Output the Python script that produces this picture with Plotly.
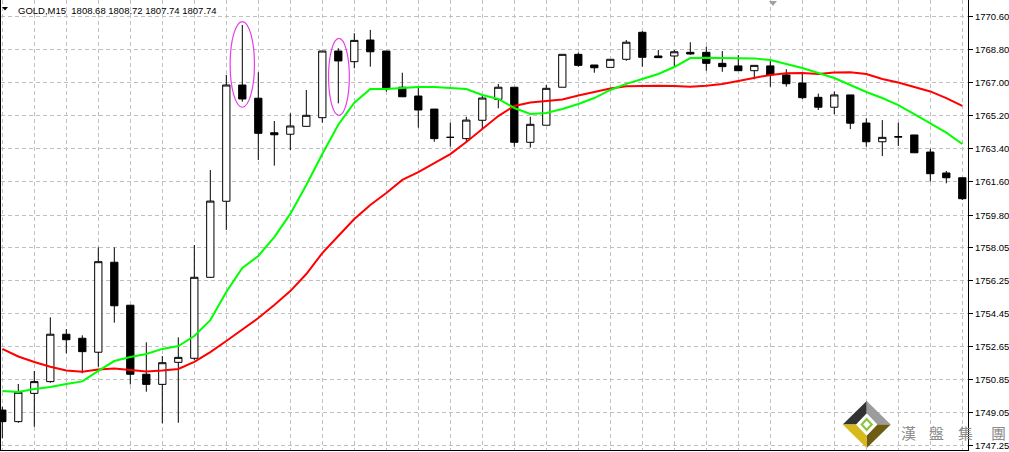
import plotly.graph_objects as go

# ---------------- data ----------------
opens = [1749.18, 1748.55, 1750.09, 1750.73, 1753.31, 1753.09, 1752.33, 1757.23, 1754.89, 1751.13,
         1750.58, 1751.78, 1752.00, 1756.41, 1760.55, 1766.88, 1766.16, 1764.28, 1764.20, 1764.63,
         1765.10, 1768.73, 1768.15, 1769.33, 1768.73, 1766.76, 1766.28, 1765.57, 1764.03, 1763.96,
         1764.96, 1766.10, 1766.76, 1763.76, 1764.69, 1766.76, 1768.55, 1767.97, 1767.84, 1768.28,
         1769.75, 1768.46, 1768.46, 1768.66, 1768.66, 1768.06, 1767.92, 1767.66, 1767.92, 1767.43,
         1766.99, 1766.21, 1765.67, 1766.34, 1764.81, 1763.79, 1764.07, 1764.16, 1763.23, 1762.09,
         1761.83]
highs = [1749.36, 1750.60, 1751.31, 1754.23, 1753.59, 1753.25, 1758.04, 1758.04, 1754.89, 1752.87,
         1752.12, 1753.14, 1758.17, 1762.25, 1767.43, 1770.15, 1767.57, 1764.92, 1765.34, 1766.61,
         1768.73, 1768.88, 1769.70, 1769.88, 1768.73, 1767.55, 1766.79, 1765.57, 1764.83, 1765.15,
         1766.28, 1766.94, 1766.76, 1765.15, 1766.88, 1768.55, 1768.64, 1767.97, 1768.28, 1769.33,
         1769.82, 1768.79, 1768.79, 1769.21, 1768.97, 1768.73, 1768.51, 1767.95, 1768.19, 1767.74,
         1767.52, 1766.41, 1766.52, 1766.34, 1765.07, 1764.97, 1764.83, 1764.16, 1763.41, 1762.20,
         1761.83]
lows = [1747.64, 1748.49, 1748.27, 1750.67, 1752.27, 1751.18, 1751.54, 1753.94, 1750.58, 1750.18,
        1748.46, 1748.49, 1751.91, 1756.37, 1758.99, 1765.97, 1762.80, 1762.49, 1763.34, 1764.63,
        1764.83, 1765.88, 1767.79, 1767.88, 1766.52, 1766.24, 1764.56, 1763.79, 1763.52, 1763.74,
        1764.48, 1765.61, 1763.52, 1763.47, 1764.69, 1766.76, 1767.88, 1767.55, 1767.84, 1768.20,
        1767.88, 1768.37, 1767.92, 1768.53, 1767.66, 1767.60, 1767.66, 1767.19, 1766.79, 1766.79,
        1766.12, 1765.52, 1765.29, 1764.48, 1763.52, 1763.01, 1763.56, 1763.19, 1761.62, 1761.53,
        1760.62]
closes = [1748.55, 1750.15, 1750.73, 1753.31, 1753.01, 1752.36, 1757.26, 1754.86, 1751.13, 1750.58,
          1751.76, 1752.05, 1756.41, 1760.56, 1766.88, 1766.12, 1764.25, 1764.17, 1764.65, 1765.23,
          1768.73, 1768.19, 1769.31, 1768.69, 1766.73, 1766.24, 1765.52, 1763.96, 1764.03, 1764.97,
          1766.17, 1766.76, 1763.76, 1764.74, 1766.70, 1768.55, 1767.95, 1767.82, 1768.28, 1769.21,
          1768.39, 1768.37, 1768.69, 1768.57, 1768.06, 1767.88, 1767.66, 1767.95, 1767.43, 1766.95,
          1766.19, 1765.67, 1766.34, 1764.80, 1763.79, 1764.03, 1764.05, 1763.19, 1762.05, 1761.83,
          1760.69]
ma_fast = [1750.22, 1750.16, 1750.33, 1750.44, 1750.60, 1750.74, 1751.31, 1751.85, 1752.07, 1752.23,
           1752.51, 1752.67, 1753.21, 1754.08, 1755.61, 1756.92, 1757.57, 1758.60, 1759.86, 1761.44,
           1763.12, 1764.72, 1765.92, 1766.66, 1766.66, 1766.72, 1766.77, 1766.77, 1766.72, 1766.66,
           1766.34, 1766.12, 1765.63, 1765.30, 1765.36, 1765.57, 1765.85, 1766.17, 1766.61, 1766.94,
           1767.21, 1767.48, 1767.86, 1768.35, 1768.37, 1768.35, 1768.35, 1768.33, 1768.24, 1768.02,
           1767.81, 1767.53, 1767.26, 1766.88, 1766.50, 1766.17, 1765.79, 1765.30, 1764.81, 1764.29,
           1763.67]
ma_slow = [1752.51, 1752.10, 1751.80, 1751.54, 1751.34, 1751.27, 1751.39, 1751.44, 1751.36, 1751.28,
           1751.34, 1751.42, 1751.80, 1752.34, 1752.94, 1753.54, 1754.19, 1754.90, 1755.66, 1756.59,
           1757.73, 1758.66, 1759.58, 1760.35, 1761.00, 1761.71, 1762.14, 1762.63, 1763.12, 1763.78,
           1764.49, 1765.19, 1765.74, 1765.93, 1766.01, 1766.09, 1766.31, 1766.50, 1766.69, 1766.81,
           1766.84, 1766.84, 1766.83, 1766.79, 1766.84, 1766.94, 1767.10, 1767.26, 1767.43, 1767.52,
           1767.53, 1767.48, 1767.56, 1767.57, 1767.48, 1767.21, 1767.02, 1766.77, 1766.53, 1766.17,
           1765.74]
tick_vals = [1770.60, 1768.80, 1767.00, 1765.20, 1763.40, 1761.60, 1759.80,
             1758.05, 1756.25, 1754.45, 1752.65, 1750.85, 1749.05, 1747.25]
tick_text = ["%.2f" % v for v in tick_vals]
symbol = "GOLD,M15"
quote = ["1808.68", "1808.72", "1807.74", "1807.74"]
marked = [15, 21]          # candles circled in the picture
watermark_chars = ["漢", "盤", "集", "團"]

# ---------------- figure ----------------
W, H = 1009, 452
ML, MR, MT, MB = 1, 41, 0, 2
PW, PH = W - ML - MR, H - MT - MB


def PX(xp):
    return (xp - ML) / PW


def PY(yp):
    return (H - MB - yp) / PH


idx = list(range(len(opens)))

fig = go.Figure()
fig.add_trace(go.Scatter(x=idx, y=ma_slow, mode="lines",
                         line=dict(color="#FF0000", width=2), hoverinfo="skip"))
fig.add_trace(go.Scatter(x=idx, y=ma_fast, mode="lines",
                         line=dict(color="#00FF00", width=2), hoverinfo="skip"))
fig.add_trace(go.Candlestick(
    x=idx, open=opens, high=highs, low=lows, close=closes,
    increasing=dict(line=dict(color="black", width=1), fillcolor="white"),
    decreasing=dict(line=dict(color="black", width=1), fillcolor="black"),
    whiskerwidth=0))

shapes = []
# ellipses around the marked candles
pads = [(0.76, 0.0, 0.30, 0.18), (0.65, 0.04, 0.65, 0.54)]
for k, (hw, dx, lo_pad, hi_pad) in zip(marked, pads):
    shapes.append(dict(type="circle", xref="x", yref="y",
                       x0=k + dx - hw, x1=k + dx + hw,
                       y0=lows[k] - lo_pad, y1=highs[k] + hi_pad,
                       line=dict(color="#E83CE8", width=1.2), layer="above"))


def poly(pts, color):
    path = "M " + " L ".join("%f,%f" % (PX(a), PY(b)) for a, b in pts) + " Z"
    return dict(type="path", xref="paper", yref="paper", path=path,
                fillcolor=color, line=dict(width=0), layer="above")


# title triangle
shapes.append(poly([(2, 7), (8, 7), (5, 10.5)], "black"))
# chart-shift marker at top
shapes.append(poly([(769, 1), (777, 1), (773, 6)], "#A0A0A0"))

# watermark logo
cx, cy, hw, hh = 866.7, 424.5, 24, 23.5
iw, ih = 10.5, 11
T, R, B, L = (cx, cy - hh), (cx + hw, cy), (cx, cy + hh), (cx - hw, cy)
t, r, b, l = (cx, cy - ih), (cx + iw, cy), (cx, cy + ih), (cx - iw, cy)
shapes.append(poly([L, T, t, l], "#333333"))
shapes.append(poly([T, R, r, t], "#9C9C9C"))
shapes.append(poly([R, B, b, r], "#6E5C12"))
shapes.append(poly([B, L, l, b], "#D6BA1C"))
shapes.append(poly([t, r, b, l], "white"))
shapes.append(poly([(cx, cy - 7), (cx + 6.5, cy), (cx, cy + 7), (cx - 6.5, cy)], "#8CC63F"))
shapes.append(poly([(cx, cy - 3.8), (cx + 3.5, cy), (cx, cy + 3.8), (cx - 3.5, cy)], "white"))

annotations = [dict(
    xref="paper", yref="paper", x=PX(15.5), y=PY(10), xanchor="left", yanchor="middle",
    text=symbol + "\u00a0\u00a0" + " ".join(quote), showarrow=False,
    font=dict(family="Liberation Sans", size=9.5, color="black"))]
for ch, xc in zip(watermark_chars, [908, 936.7, 965, 998]):
    annotations.append(dict(xref="paper", yref="paper", x=PX(xc), y=PY(432.5),
                            xanchor="center", yanchor="middle", text=ch, showarrow=False,
                            font=dict(family="Noto Sans CJK TC", size=15, color="#8C8C8C")))
# price labels of the right-hand scale
for v, s in zip(tick_vals, tick_text):
    annotations.append(dict(xref="paper", yref="y", x=PX(972.5), y=v,
                            xanchor="left", yanchor="middle", text=s, showarrow=False,
                            font=dict(family="Liberation Sans", size=9.5, color="black")))

fig.update_layout(
    width=W, height=H, margin=dict(l=ML, r=MR, t=MT, b=MB),
    paper_bgcolor="white", plot_bgcolor="white", showlegend=False,
    boxgap=0.35, shapes=shapes, annotations=annotations, hovermode=False,
    font=dict(family="Liberation Sans", size=9.5, color="black"))
fig.update_xaxes(range=[-0.081, 60.356], tickvals=list(range(0, len(opens), 2)),
                 showticklabels=False, ticks="", showgrid=True, gridcolor="#C0C0C0",
                 griddash="4px,3px", gridwidth=1, zeroline=False, showline=True,
                 linecolor="black", linewidth=1, rangeslider_visible=False)
fig.update_yaxes(side="right", range=[1747.006, 1771.509], tickvals=tick_vals,
                 showticklabels=False, ticks="outside", ticklen=4, tickcolor="black",
                 showgrid=True, gridcolor="#C0C0C0", griddash="4px,3px", gridwidth=1,
                 zeroline=False, showline=True, mirror=True, linecolor="black", linewidth=1)

fig.write_html("out.html", config={"displayModeBar": False},
               post_script="document.body.style.margin='0px';document.body.style.overflow='hidden';")
